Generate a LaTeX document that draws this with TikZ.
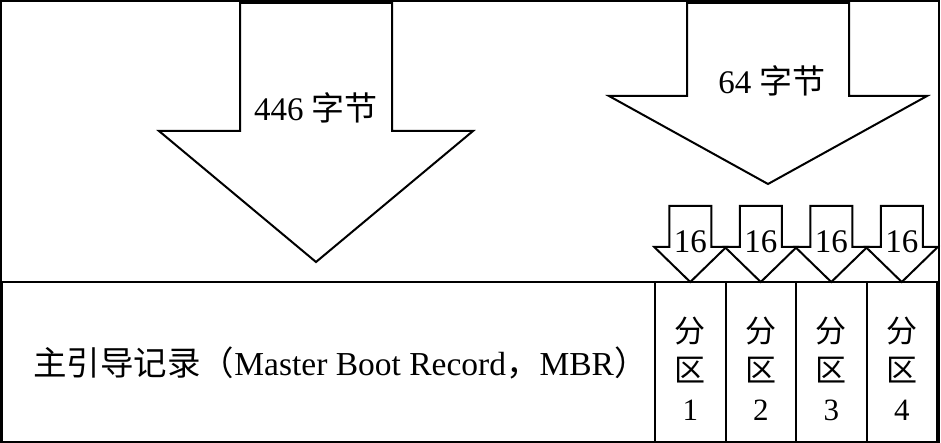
\documentclass[tikz,border=0pt]{standalone}
\usepackage{fontspec}
\setmainfont{Liberation Serif}
\newfontfamily\cjk{Noto Sans CJK SC}
\usetikzlibrary{positioning}
\def\zh#1{{\cjk #1}}

\begin{document}
\begin{tikzpicture}[x=1pt,y=-1pt,line width=2pt,
	every node/.style={font=\fontsize{33}{39}\selectfont},
	small/.style={font=\fontsize{31}{39}\selectfont},
	box/.style={draw,outer sep=0pt,inner sep=0pt},
	part/.style={box,small,minimum width=70.5pt,minimum height=174pt,align=center,text depth=0pt}]
\useasboundingbox (0,0) rectangle (941,443);
\draw (1,1) rectangle (939,442);

% bottom row: MBR and the four partitions
\node[box,minimum width=653pt,minimum height=162pt,anchor=north west,font=\fontsize{33.5}{39}\selectfont]	(mbr)	at (2,282)	{\hspace{24pt}\zh{主引导记录（}Master Boot Record\zh{，}MBR\zh{）}};
\node[part]		(p1)	[below right=0pt and 0pt of mbr.north east]	{\zh{分}\\\zh{区}\\1};
\node[part]		(p2)	[right=0pt of p1]							{\zh{分}\\\zh{区}\\2};
\node[part]		(p3)	[right=0pt of p2]							{\zh{分}\\\zh{区}\\3};
\node[part]		(p4)	[right=0pt of p3]							{\zh{分}\\\zh{区}\\4};

% big arrows
\coordinate (tip446) at (316,262);
\coordinate (tip64)  at (768,184);
\draw (tip446) -- ++(-157,-131) -- ++(81,0) -- ++(0,-128) -- ++(152,0) -- ++(0,128) -- ++(81,0) -- cycle;
\draw (tip64)  -- ++(-159,-88)  -- ++(78,0) -- ++(0,-93)  -- ++(162,0) -- ++(0,93)  -- ++(78,0) -- cycle;
\node (lbl446)	at (316,108)	{446 \zh{字节}};
\node (lbl64)	at (772,81)		{64 \zh{字节}};

% small arrows, one per partition
\foreach \i in {1,...,4}{
	\draw (p\i.north) -- ++(-36,-35) -- ++(15,0) -- ++(0,-41) -- ++(42,0) -- ++(0,41) -- ++(15,0) -- cycle;
	\node (lbl\i) at ([yshift=40pt]p\i.north) {16};
}
\end{tikzpicture}
\end{document}
